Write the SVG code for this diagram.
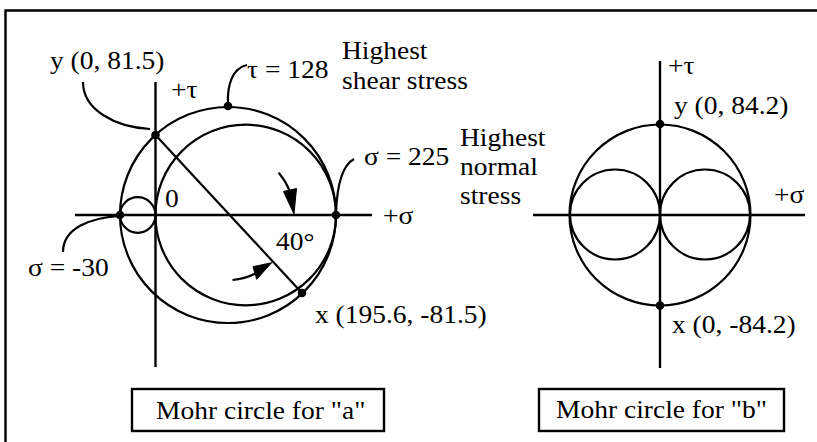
<svg xmlns="http://www.w3.org/2000/svg" width="817" height="442" viewBox="0 0 817 442">
<style>
.ln{fill:none;stroke:#000;stroke-width:2.2}
.ax{fill:none;stroke:#000;stroke-width:2.4}
.ah{fill:#000;stroke:#000;stroke-width:1}
.box{fill:#fff;stroke:#000;stroke-width:2.4}
.t{font-family:'Liberation Serif',serif;font-size:25px;fill:#000}
</style>
<defs>
  <circle id="pt" r="4.3" fill="#000"/>
</defs>
<rect width="817" height="442" fill="#fff"/>
<g id="frame"><path class="ax" d="M5.5 442 V10.5 H817"/></g>

<g id="diagram-a">
  <g id="axes-a">
    <line class="ax" x1="155.5" y1="82" x2="155.5" y2="367"/>
    <line class="ax" x1="75" y1="215" x2="372" y2="215"/>
    <text class="t" font-family="Liberation Serif" transform="translate(171 98) scale(1.1 1)">+τ</text>
    <text class="t" font-family="Liberation Serif" transform="translate(383 224) scale(1.1 1)">+σ</text>
    <text class="t" font-family="Liberation Serif" transform="translate(165 207) scale(1.1 1)">0</text>
  </g>
  <g id="circle-big-a"><circle class="ln" cx="228" cy="215" r="108"/></g>
  <g id="circle-inner-a"><circle class="ln" cx="245.7" cy="215" r="90.3"/></g>
  <g id="circle-small-a"><circle class="ln" cx="137.7" cy="215" r="17.8"/></g>
  <g id="diameter-a"><line class="ln" x1="155.5" y1="135" x2="302" y2="293"/></g>
  <g id="point-y-a">
    <use href="#pt" x="155.5" y="135"/>
    <text class="t" font-family="Liberation Serif" transform="translate(50 69) scale(1.1 1)">y (0, 81.5)</text>
  </g>
  <g id="point-x-a">
    <use href="#pt" x="302" y="293"/>
    <text class="t" font-family="Liberation Serif" transform="translate(315 323) scale(1.1 1)">x (195.6, -81.5)</text>
  </g>
  <g id="point-tau-max">
    <use href="#pt" x="228" y="106"/>
    <text class="t" font-family="Liberation Serif" transform="translate(247 78) scale(1.1 1)">τ = 128</text>
    <text class="t" font-family="Liberation Serif" transform="translate(342 59) scale(1.1 1)">Highest</text>
    <text class="t" font-family="Liberation Serif" transform="translate(342 89) scale(1.1 1)">shear stress</text>
  </g>
  <g id="point-sigma-max">
    <use href="#pt" x="336" y="215"/>
    <text class="t" font-family="Liberation Serif" transform="translate(364 165) scale(1.1 1)">σ = 225</text>
    <text class="t" font-family="Liberation Serif" transform="translate(460 146) scale(1.1 1)">Highest</text>
    <text class="t" font-family="Liberation Serif" transform="translate(460 175) scale(1.1 1)">normal</text>
    <text class="t" font-family="Liberation Serif" transform="translate(460 204) scale(1.1 1)">stress</text>
  </g>
  <g id="point-sigma-min">
    <use href="#pt" x="120" y="215"/>
    <text class="t" font-family="Liberation Serif" transform="translate(28 276) scale(1.1 1)">σ = -30</text>
  </g>
  <g id="angle-label"><text class="t" font-family="Liberation Serif" transform="translate(276 250) scale(1.1 1)">40°</text></g>
  <g id="caption-a">
    <rect class="box" x="132" y="389" width="252" height="42"/>
    <text class="t" font-family="Liberation Serif" transform="translate(156 419) scale(1.1 1)">Mohr circle for "a"</text>
  </g>
</g>

<g id="diagram-b">
  <g id="axes-b">
    <line class="ax" x1="660" y1="61" x2="660" y2="368"/>
    <line class="ax" x1="533" y1="215" x2="805" y2="215"/>
    <text class="t" font-family="Liberation Serif" transform="translate(668 74) scale(1.1 1)">+τ</text>
    <text class="t" font-family="Liberation Serif" transform="translate(774 203) scale(1.1 1)">+σ</text>
  </g>
  <g id="circle-big-b"><circle class="ln" cx="660" cy="215" r="90.5"/></g>
  <g id="circle-left-b"><circle class="ln" cx="615" cy="214.5" r="45"/></g>
  <g id="circle-right-b"><circle class="ln" cx="705" cy="214.5" r="45"/></g>
  <g id="point-y-b">
    <use href="#pt" x="660" y="124"/>
    <text class="t" font-family="Liberation Serif" transform="translate(674 114) scale(1.1 1)">y (0, 84.2)</text>
  </g>
  <g id="point-x-b">
    <use href="#pt" x="660" y="305.5"/>
    <text class="t" font-family="Liberation Serif" transform="translate(672 333) scale(1.1 1)">x (0, -84.2)</text>
  </g>
  <g id="caption-b">
    <rect class="box" x="539" y="389" width="245" height="42"/>
    <text class="t" font-family="Liberation Serif" transform="translate(556 418) scale(1.1 1)">Mohr circle for "b"</text>
  </g>
</g>

<g id="connectors">
  <path class="ln" d="M83 82 C83 110 115 127 150 129"/>
  <path class="ln" d="M228 104 C227 84 233 68 247 65"/>
  <path class="ln" d="M354 159 C343 165 337 185 336 213"/>
  <path class="ln" d="M119 216 C90 218 63 228 63 252"/>
  <path class="ln" d="M278.6 172.6 A66 66 0 0 1 289.5 190.5"/>
  <polygon class="ah" points="294,214 283.5,191.5 296.5,188.5"/>
  <path class="ln" d="M232.5 280 A65 65 0 0 0 255.5 273.5"/>
  <polygon class="ah" points="271.7,262.7 253,266.7 256.7,279.3"/>
</g>
</svg>
